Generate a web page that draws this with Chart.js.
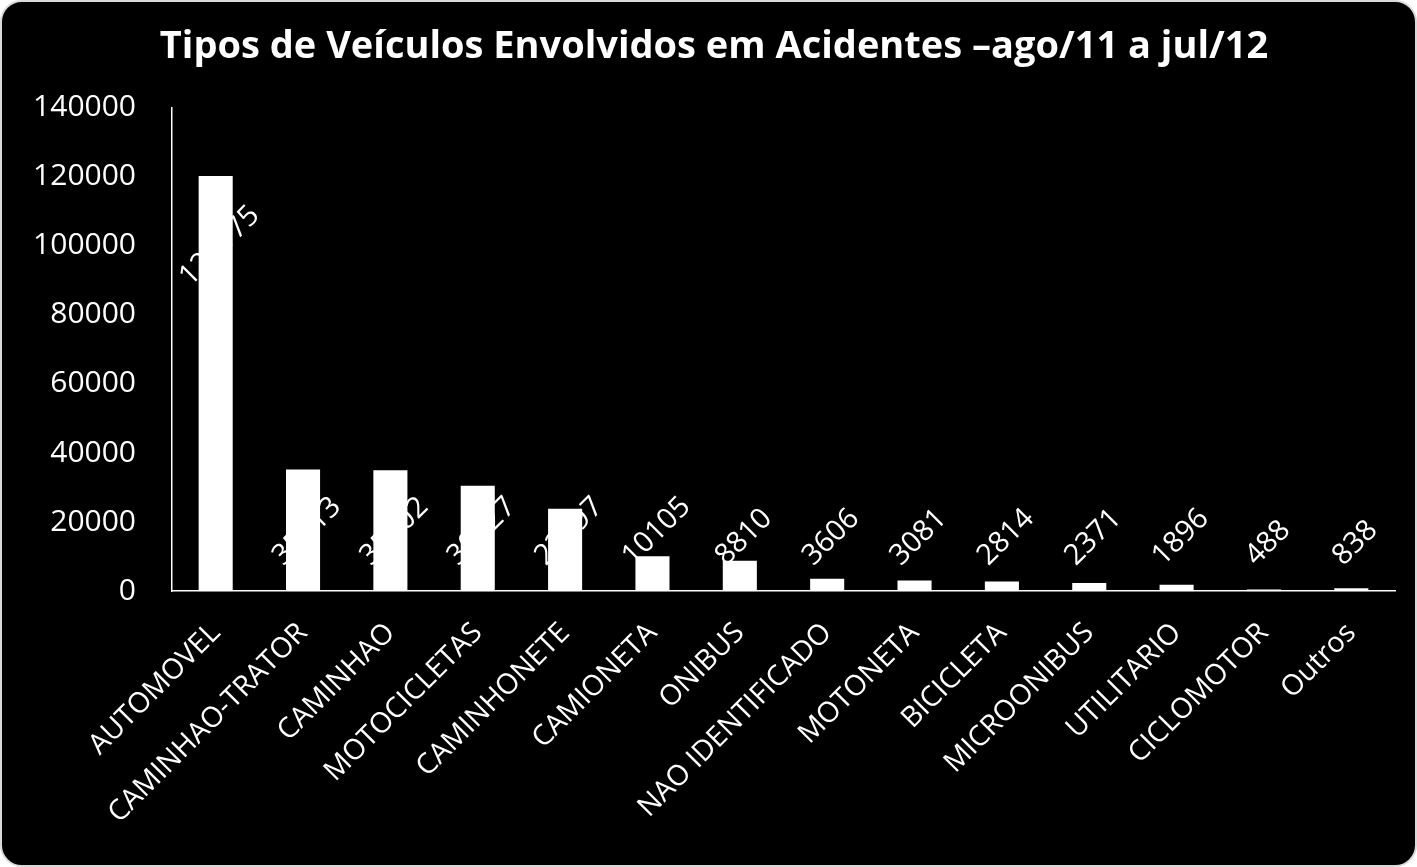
<!DOCTYPE html>
<html>
<head>
<meta charset="utf-8">
<script src="https://cdn.jsdelivr.net/npm/chart.js@4"></script>
<style>
  html, body { margin: 0; padding: 0; background: #fff; }
  #box {
    position: absolute; left: 0; top: 0;
    width: 1417px; height: 867px; box-sizing: border-box;
    background: #000; border: 2px solid #d9d9d9; border-radius: 22px;
    overflow: hidden;
  }
  canvas { display: block; }
</style>
</head>
<body>
<div id="box"><canvas id="chart-veiculos" width="1413" height="863"></canvas></div>
<script>
// categorias e valores
const categorias = ["AUTOMOVEL", "CAMINHAO-TRATOR", "CAMINHAO", "MOTOCICLETAS", "CAMINHONETE",
  "CAMIONETA", "ONIBUS", "NAO IDENTIFICADO", "MOTONETA", "BICICLETA", "MICROONIBUS",
  "UTILITARIO", "CICLOMOTOR", "Outros"];
const acidentes = [120175, 35213, 35002, 30527, 23897, 10105, 8810, 3606, 3081, 2814, 2371, 1896, 488, 838];
const yTicks = [0, 20000, 40000, 60000, 80000, 100000, 120000, 140000];

const fonte = "'Open Sans', sans-serif";

// rótulos de dados girados a 45 graus
const rotulos = {
  id: "rotulos",
  afterDatasetsDraw(chart) {
    const ctx = chart.ctx;
    const meta = chart.getDatasetMeta(0);
    const base = chart.scales.y.getPixelForValue(0);
    ctx.save();
    ctx.font = "29px " + fonte;
    ctx.fillStyle = "#fff";
    ctx.textAlign = "center";
    ctx.textBaseline = "middle";
    meta.data.forEach(function (bar, i) {
      const txt = String(acidentes[i]);
      const w = ctx.measureText(txt).width;
      const half = 0.354 * (w + 21);
      let cy = base - 23 - half;
      if (acidentes[i] > 70000) cy = bar.y + 70;
      ctx.save();
      ctx.translate(bar.x + 4, cy);
      ctx.rotate(-Math.PI / 4);
      ctx.fillText(txt, 0, 0);
      ctx.restore();
    });
    ctx.restore();
  }
};

const config = {
  type: "bar",
  data: {
    labels: categorias,
    datasets: [{
      data: acidentes,
      backgroundColor: "#fff",
      borderWidth: 0,
      categoryPercentage: 1,
      barPercentage: 0.39
    }]
  },
  options: {
    responsive: false,
    animation: false,
    layout: { padding: { left: 31, right: 20, top: 2, bottom: 10 } },
    plugins: {
      legend: { display: false },
      tooltip: { enabled: false },
      title: {
        display: true,
        text: "Tipos de Veículos Envolvidos em Acidentes –ago/11 a jul/12",
        color: "#fff",
        font: { family: fonte, size: 38, weight: "bold" },
        padding: { top: 20, bottom: 38 }
      }
    },
    scales: {
      x: {
        grid: { display: false, drawTicks: false },
        border: { display: true, color: "#fff", width: 1.5 },
        ticks: {
          color: "#fff",
          font: { family: fonte, size: 28.5 },
          maxRotation: 45, minRotation: 45,
          padding: 25,
          autoSkip: false
        },
        afterFit(axis) { axis.paddingLeft = 0; }
      },
      y: {
        min: 0, max: 140000,
        afterBuildTicks(axis) { axis.ticks = yTicks.map(v => ({ value: v })); },
        grid: { display: false, drawTicks: false },
        border: { display: true, color: "#fff", width: 1.5 },
        ticks: {
          color: "#fff",
          font: { family: fonte, size: 30 },
          padding: 36,
          callback: v => String(v)
        },
        // largura do eixo: rótulos (~103px) + espaçamento
        afterFit(axis) { axis.width = 139; }
      }
    }
  },
  plugins: [rotulos]
};

new Chart(document.getElementById("chart-veiculos"), config);
</script>
</body>
</html>
